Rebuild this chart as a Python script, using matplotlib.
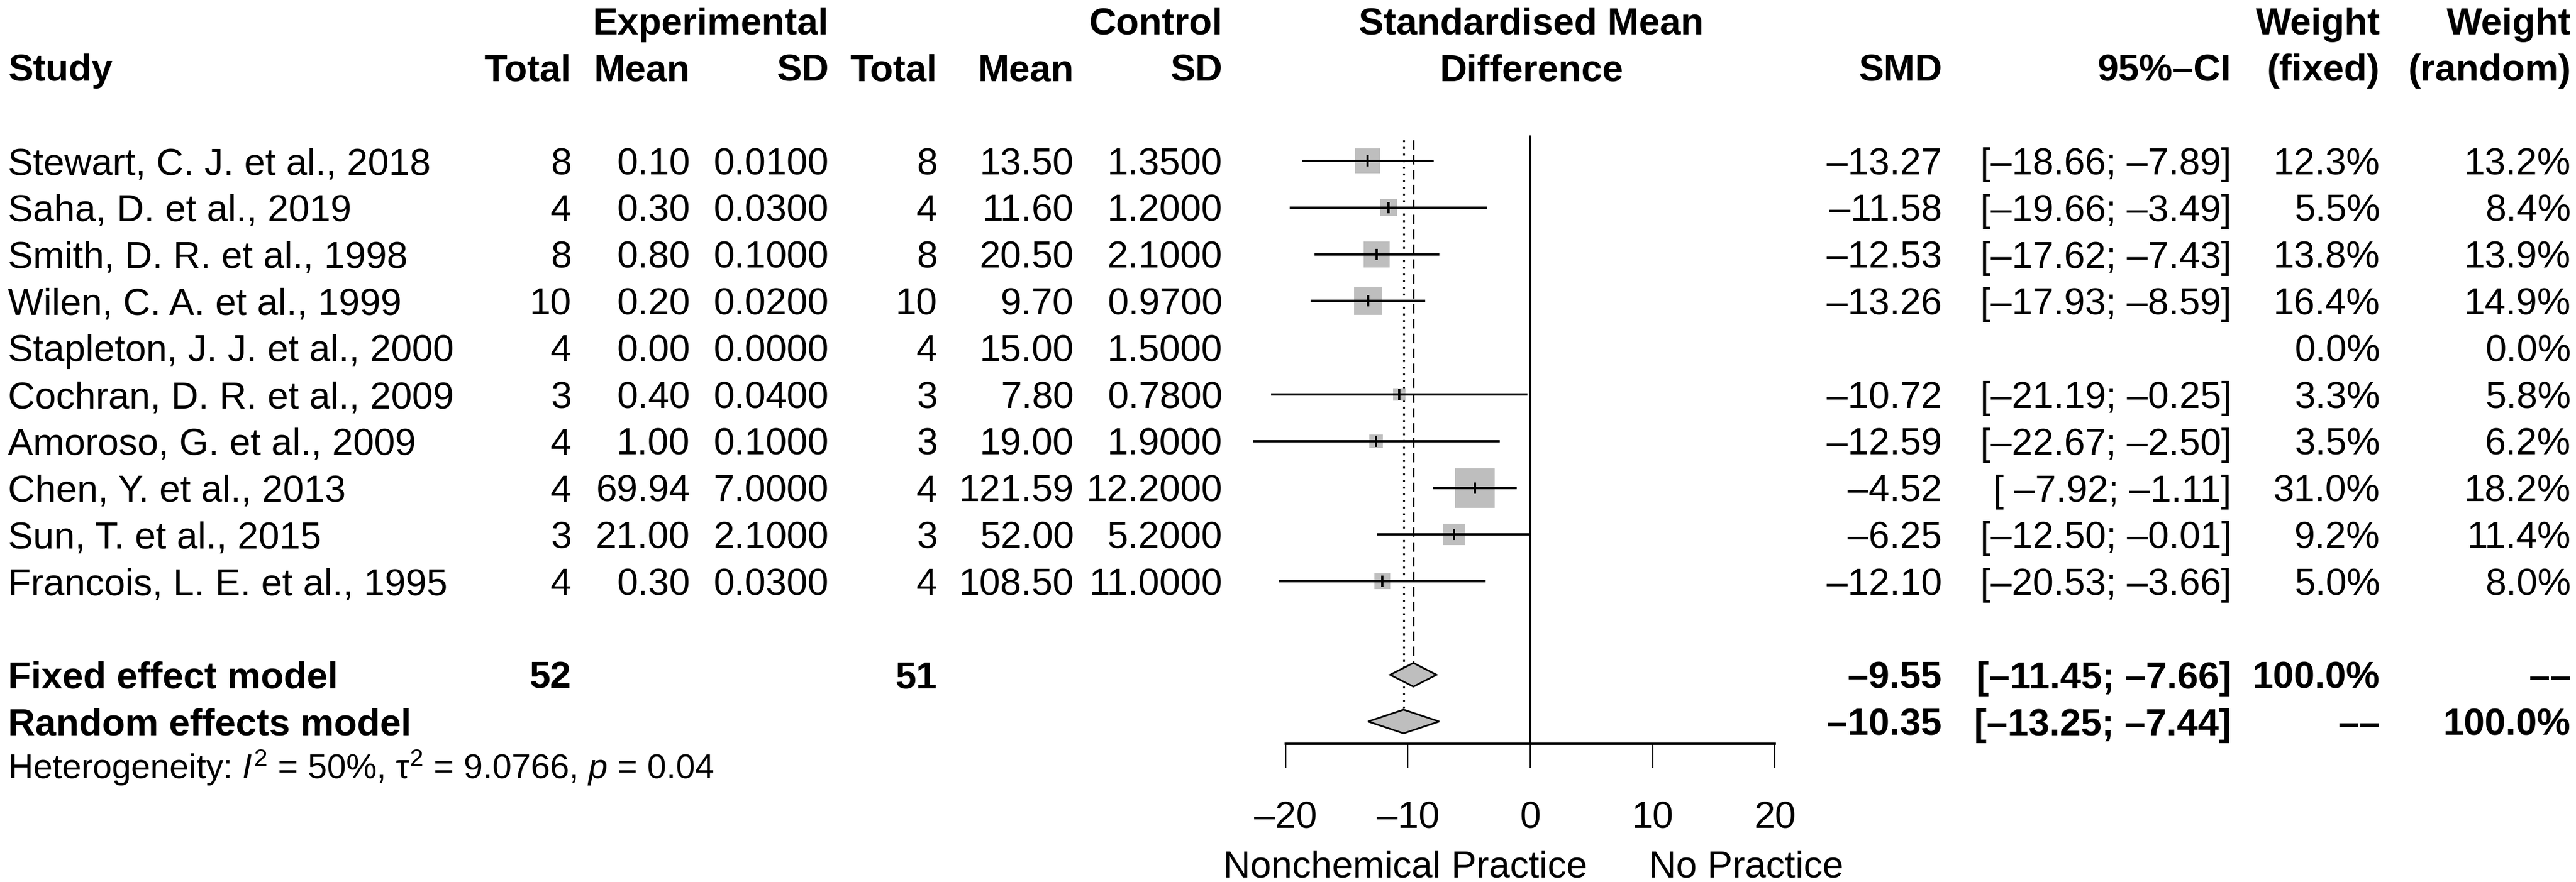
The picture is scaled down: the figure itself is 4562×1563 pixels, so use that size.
import numpy as np
import matplotlib
matplotlib.use('Agg')
import matplotlib.pyplot as plt
from matplotlib.patches import Polygon

plt.rcParams['font.family'] = ['Liberation Sans', 'DejaVu Sans']
plt.rcParams['mathtext.fontset'] = 'custom'
plt.rcParams['mathtext.rm'] = 'Liberation Sans'
plt.rcParams['mathtext.it'] = 'Liberation Sans:italic'
plt.rcParams['lines.scale_dashes'] = False

# data
studies = ["Stewart, C. J. et al., 2018", "Saha, D. et al., 2019", "Smith, D. R. et al., 1998",
           "Wilen, C. A. et al., 1999", "Stapleton, J. J. et al., 2000", "Cochran, D. R. et al., 2009",
           "Amoroso, G. et al., 2009", "Chen, Y. et al., 2013", "Sun, T. et al., 2015",
           "Francois, L. E. et al., 1995"]
exp_n = [8, 4, 8, 10, 4, 3, 4, 4, 3, 4]
exp_mean = [0.10, 0.30, 0.80, 0.20, 0.00, 0.40, 1.00, 69.94, 21.00, 0.30]
exp_sd = [0.01, 0.03, 0.10, 0.02, 0.00, 0.04, 0.10, 7.00, 2.10, 0.03]
ctl_n = [8, 4, 8, 10, 4, 3, 3, 4, 3, 4]
ctl_mean = [13.50, 11.60, 20.50, 9.70, 15.00, 7.80, 19.00, 121.59, 52.00, 108.50]
ctl_sd = [1.35, 1.20, 2.10, 0.97, 1.50, 0.78, 1.90, 12.20, 5.20, 11.00]
smd = [-13.27, -11.58, -12.53, -13.26, np.nan, -10.72, -12.59, -4.52, -6.25, -12.10]
ci_lo = [-18.66, -19.66, -17.62, -17.93, np.nan, -21.19, -22.67, -7.92, -12.50, -20.53]
ci_hi = [-7.89, -3.49, -7.43, -8.59, np.nan, -0.25, -2.50, -1.11, -0.01, -3.66]
w_fixed = [12.3, 5.5, 13.8, 16.4, 0.0, 3.3, 3.5, 31.0, 9.2, 5.0]
w_random = [13.2, 8.4, 13.9, 14.9, 0.0, 5.8, 6.2, 18.2, 11.4, 8.0]

fixed = (-9.55, -11.45, -7.66)
random = (-10.35, -13.25, -7.44)
total_exp, total_ctl = 52, 51
het_text = r"Heterogeneity: $I^2$ = 50%, τ$^2$ = 9.0766, $p$ = 0.04"

xticks = [-20, -10, 0, 10, 20]
label_left = "Nonchemical Practice"
label_right = "No Practice"

GREY = '#BEBEBE'
FS = 48
W, H = 4562, 1563
ROW0, ROWH = 285, 82.8   # pixel y of first study row, row height
BASE = 0.29              # baseline offset (rows) to center cap height on a row


def fmt(v, d):
    return f"{v:.{d}f}".replace('-', '\u2013')


def ci_str(lo, hi):
    a = fmt(lo, 2)
    if len(a) < 6:
        a = ' ' + a
    return f"[{a}; {fmt(hi, 2)}]"


fig = plt.figure(figsize=(W / 100, H / 100), dpi=100)

# text layer: x in pixels, y in rows
ax = fig.add_axes([0, 0, 1, 1])
ax.set_xlim(0, W)
ax.set_ylim((H - ROW0) / ROWH, -ROW0 / ROWH)
ax.axis('off')

cols = dict(study=14, en=1012, em=1222, esd=1468, cn=1660, cm=1902, csd=2165,
            smd=3439, ci=3952, wf=4215, wr=4553)


def put(x, r, s, ha='right', bold=False, size=FS):
    ax.text(x, r + BASE, s, ha=ha, va='baseline', fontsize=size,
            fontweight='bold' if bold else 'normal')


# headers
put(cols['esd'], -3, "Experimental", bold=True)
put(cols['csd'], -3, "Control", bold=True)
put(2712, -3, "Standardised Mean", ha='center', bold=True)
put(cols['wf'], -3, "Weight", bold=True)
put(cols['wr'], -3, "Weight", bold=True)
put(cols['study'], -2, "Study", ha='left', bold=True)
for key, s in [('en', "Total"), ('em', "Mean"), ('esd', "SD"), ('cn', "Total"),
               ('cm', "Mean"), ('csd', "SD"), ('smd', "SMD"), ('ci', "95%\u2013CI"),
               ('wf', "(fixed)"), ('wr', "(random)")]:
    put(cols[key], -2, s, bold=True)
put(2712, -2, "Difference", ha='center', bold=True)

# study rows
for i, name in enumerate(studies):
    put(cols['study'], i, name, ha='left')
    put(cols['en'], i, str(exp_n[i]))
    put(cols['em'], i, fmt(exp_mean[i], 2))
    put(cols['esd'], i, fmt(exp_sd[i], 4))
    put(cols['cn'], i, str(ctl_n[i]))
    put(cols['cm'], i, fmt(ctl_mean[i], 2))
    put(cols['csd'], i, fmt(ctl_sd[i], 4))
    if not np.isnan(smd[i]):
        put(cols['smd'], i, fmt(smd[i], 2))
        put(cols['ci'], i, ci_str(ci_lo[i], ci_hi[i]))
    put(cols['wf'], i, fmt(w_fixed[i], 1) + '%')
    put(cols['wr'], i, fmt(w_random[i], 1) + '%')

n = len(studies)
r_fix, r_ran, r_het = n + 1, n + 2, n + 2.95
put(cols['study'], r_fix, "Fixed effect model", ha='left', bold=True)
put(cols['en'], r_fix, str(total_exp), bold=True)
put(cols['cn'], r_fix, str(total_ctl), bold=True)
put(cols['smd'], r_fix, fmt(fixed[0], 2), bold=True)
put(cols['ci'], r_fix, ci_str(fixed[1], fixed[2]), bold=True)
put(cols['wf'], r_fix, "100.0%", bold=True)
put(cols['wr'], r_fix, "\u2013\u2013", bold=True)
put(cols['study'], r_ran, "Random effects model", ha='left', bold=True)
put(cols['smd'], r_ran, fmt(random[0], 2), bold=True)
put(cols['ci'], r_ran, ci_str(random[1], random[2]), bold=True)
put(cols['wf'], r_ran, "\u2013\u2013", bold=True)
put(cols['wr'], r_ran, "100.0%", bold=True)
ax.text(cols['study'], r_het + 0.27, het_text, ha='left', va='baseline', fontsize=44)

# forest panel: x in SMD units, y in rows
PX_UNIT = 21.67
X0 = 2710
top_px, bot_px = 240, 1318
left_px = X0 - 20 * PX_UNIT
fx = fig.add_axes([left_px / W, (H - bot_px) / H, 40 * PX_UNIT / W, (bot_px - top_px) / H])
fx.set_xlim(-20, 20)
fx.set_ylim((bot_px - ROW0) / ROWH, (top_px - ROW0) / ROWH)
fx.patch.set_visible(False)
for sp in ['left', 'right', 'top']:
    fx.spines[sp].set_visible(False)
fx.spines['bottom'].set_linewidth(2.9)
fx.set_yticks([])
fx.set_xticks(xticks)
fx.set_xticklabels([fmt(t, 0) for t in xticks])
fx.tick_params(axis='x', direction='out', length=31, width=1.6, pad=42, labelsize=FS)

fx.axvline(0, color='black', lw=2.9, zorder=1)
ytop = (top_px - ROW0) / ROWH + 0.1
dh = 21 / ROWH
fx.plot([fixed[0], fixed[0]], [ytop, r_fix - dh], color='black', lw=2.2,
        dashes=(12, 7), zorder=1)
fx.plot([random[0], random[0]], [ytop, r_ran - dh], color='black', lw=2.4,
        dashes=(2.5, 6), zorder=1)

for i in range(n):
    if np.isnan(smd[i]):
        continue
    side = 12.57 * np.sqrt(w_fixed[i]) * 0.72
    fx.plot([smd[i]], [i], marker='s', ms=side, mfc=GREY, mec=GREY, mew=0,
            ls='none', zorder=2, clip_on=False)
    fx.plot([ci_lo[i], ci_hi[i]], [i, i], color='black', lw=2.9, zorder=3,
            clip_on=False, solid_capstyle='butt')
    fx.plot([smd[i]], [i], marker='|', ms=14.5, mew=2.9, color='black',
            ls='none', zorder=4, clip_on=False)

for (est, lo, hi), r in [(fixed, r_fix), (random, r_ran)]:
    fx.add_patch(Polygon([(lo, r), (est, r - dh), (hi, r), (est, r + dh)], closed=True,
                         fc=GREY, ec='black', lw=2.2, zorder=5, clip_on=False))

r_lab = (1530 - ROW0) / ROWH + BASE
fx.text(-10.2, r_lab, label_left, ha='center', va='baseline', fontsize=FS, clip_on=False)
fx.text(9.7, r_lab, label_right, ha='left', va='baseline', fontsize=FS, clip_on=False)

fig.savefig('out.png', dpi=100)
